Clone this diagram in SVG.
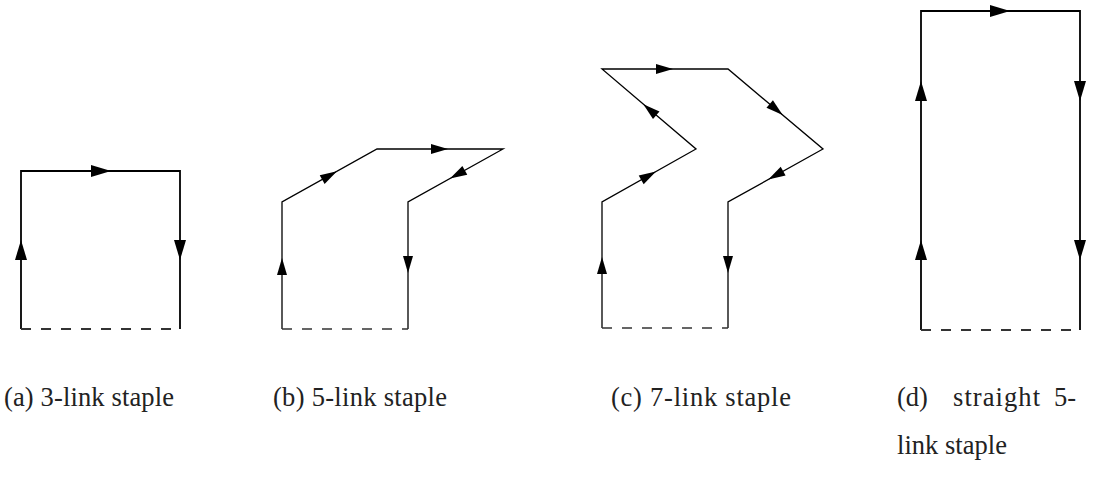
<svg xmlns="http://www.w3.org/2000/svg" xmlns:xlink="http://www.w3.org/1999/xlink" width="1094" height="478" viewBox="0 0 1094 478">
  <style>
    .link { fill: none; stroke: #000; stroke-linejoin: miter; }
    .thick { stroke-width: 1.8; }
    .thin { stroke-width: 1.3; }
    .base { fill: none; stroke: #333; stroke-dasharray: 10 10; }
    .head { fill: #000; stroke: none; }
    .cap { font-family: "Liberation Serif", "Times New Roman", serif; font-size: 26.5px; fill: #222; }
  </style>
  <defs>
    <!-- arrowheads, tip at the origin, pointing along +x -->
    <path id="bigHead" d="M0,0 L-20,-6 L-20,6 Z"/>
    <path id="smallHead" d="M0,0 L-17,-5 L-17,5 Z"/>
  </defs>

  <rect width="1094" height="478" fill="#fff"/>

  <g id="connectors">
    <!-- (a) 3-link staple -->
    <path class="link thick" d="M21,329 V171 H180 V329"/>
    <path class="base thick" d="M21,329 H180"/>
    <!-- (b) 5-link staple -->
    <path class="link thin" d="M282,329 V202 L377,149 H503 L408,202 V329"/>
    <path class="base thin" d="M282,329 H408"/>
    <!-- (c) 7-link staple -->
    <path class="link thin" d="M602,328 V202 L696,149 L602,69 H728 L823,149 L728,202 V328"/>
    <path class="base thin" d="M602,328 H728"/>
    <!-- (d) straight 5-link staple -->
    <path class="link thick" d="M921,330 V11 H1080 V330"/>
    <path class="base thick" d="M921,330 H1080"/>
  </g>

  <g id="arrows" class="head">
    <!-- (a) -->
    <use xlink:href="#bigHead" transform="translate(21,240) rotate(-90)"/>
    <use xlink:href="#bigHead" transform="translate(111,171)"/>
    <use xlink:href="#bigHead" transform="translate(180,260) rotate(90)"/>
    <!-- (b) -->
    <use xlink:href="#smallHead" transform="translate(282,258) rotate(-90)"/>
    <use xlink:href="#smallHead" transform="translate(337,171.3) rotate(-29.2)"/>
    <use xlink:href="#smallHead" transform="translate(448,149)"/>
    <use xlink:href="#smallHead" transform="translate(450,178.6) rotate(150.8)"/>
    <use xlink:href="#smallHead" transform="translate(408,273) rotate(90)"/>
    <!-- (c) -->
    <use xlink:href="#smallHead" transform="translate(602,257) rotate(-90)"/>
    <use xlink:href="#smallHead" transform="translate(656,171.6) rotate(-29.4)"/>
    <use xlink:href="#smallHead" transform="translate(643.3,104.2) rotate(-139.6)"/>
    <use xlink:href="#smallHead" transform="translate(673,69)"/>
    <use xlink:href="#smallHead" transform="translate(782.7,115) rotate(40.1)"/>
    <use xlink:href="#smallHead" transform="translate(768.3,179.5) rotate(150.8)"/>
    <use xlink:href="#smallHead" transform="translate(728,273) rotate(90)"/>
    <!-- (d) -->
    <use xlink:href="#bigHead" transform="translate(921,81) rotate(-90)"/>
    <use xlink:href="#bigHead" transform="translate(921,240) rotate(-90)"/>
    <use xlink:href="#bigHead" transform="translate(1010,11)"/>
    <use xlink:href="#bigHead" transform="translate(1080,101) rotate(90)"/>
    <use xlink:href="#bigHead" transform="translate(1080,260) rotate(90)"/>
  </g>

  <g id="caption-a">
    <text class="cap" x="4" y="406" textLength="170" lengthAdjust="spacing">(a) 3-link staple</text>
  </g>
  <g id="caption-b">
    <text class="cap" x="273" y="406" textLength="174" lengthAdjust="spacing">(b) 5-link staple</text>
  </g>
  <g id="caption-c">
    <text class="cap" x="611" y="406" textLength="180" lengthAdjust="spacing">(c) 7-link staple</text>
  </g>
  <g id="caption-d">
    <text class="cap" y="406"><tspan x="897">(d)</tspan><tspan x="953" textLength="87" lengthAdjust="spacing">straight</tspan><tspan x="1054">5-</tspan></text>
    <text class="cap" x="897" y="454" textLength="110" lengthAdjust="spacing">link staple</text>
  </g>
</svg>
